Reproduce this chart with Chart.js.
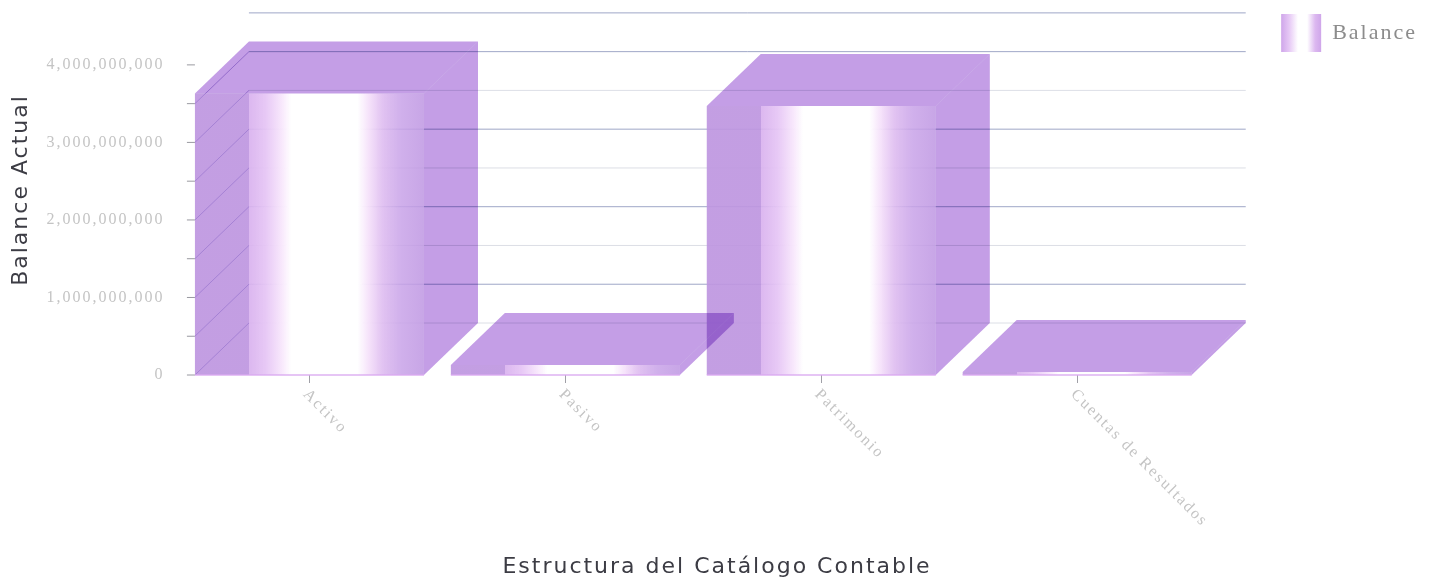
<!DOCTYPE html>
<html>
<head>
<meta charset="utf-8">
<style>
  html, body { margin: 0; background: #fff; overflow: hidden; }
  #wrap { width: 1434px; height: 582px; }
  canvas { filter: blur(0.6px); }
</style>
<script src="https://cdn.jsdelivr.net/npm/chart.js@4"></script>
</head>
<body>
<div id="wrap"><canvas id="balanceChart"></canvas></div>
<script>
const categories = ['Activo', 'Pasivo', 'Patrimonio', 'Cuentas de Resultados'];
const balances = [3630000000, 130000000, 3470000000, 40000000];
const yTickValues = [0, 500000000, 1000000000, 1500000000, 2000000000, 2500000000, 3000000000, 3500000000, 4000000000];
const seriesName = 'Balance';
const xTitle = 'Estructura del Catálogo Contable';
const yTitle = 'Balance Actual';

// box depth of the fake 3D look
const depthX = 54;
const depthY = 52;
const faceColor = 'rgb(196,158,230)';

function frontGradient(ctx, left, right) {
  const g = ctx.createLinearGradient(left, 0, right, 0);
  g.addColorStop(0, 'rgba(190,150,224,0.92)');
  g.addColorStop(0.236, 'rgba(190,150,224,0.92)');
  g.addColorStop(0.237, 'rgba(216,176,238,0.9)');
  g.addColorStop(0.31, 'rgba(230,198,245,0.95)');
  g.addColorStop(0.38, 'rgba(248,232,252,0.98)');
  g.addColorStop(0.42, '#fff');
  g.addColorStop(0.71, '#fff');
  g.addColorStop(0.76, 'rgba(245,225,250,0.95)');
  g.addColorStop(0.82, 'rgba(222,188,240,0.9)');
  g.addColorStop(0.9, 'rgba(200,162,232,0.85)');
  g.addColorStop(1, 'rgba(190,150,226,0.85)');
  return g;
}

function poly(ctx, pts) {
  ctx.beginPath();
  pts.forEach((p, i) => (i ? ctx.lineTo(p[0], p[1]) : ctx.moveTo(p[0], p[1])));
  ctx.closePath();
  ctx.fill();
}

const box3d = {
  id: 'box3d',
  beforeUpdate(chart) {
    chart.ctx.letterSpacing = '2px';
  },
  beforeDraw(chart) {
    chart.ctx.letterSpacing = '2px';
    // legend swatch uses the same white band as the bars
    const lg = chart.legend;
    const left = lg.left + lg.options.labels.padding;
    const g = chart.ctx.createLinearGradient(left, 0, left + 40, 0);
    g.addColorStop(0, '#cfa6ea');
    g.addColorStop(0.2, '#e6c8f5');
    g.addColorStop(0.42, '#fff');
    g.addColorStop(0.65, '#fff');
    g.addColorStop(0.85, '#dcb8f0');
    g.addColorStop(1, '#cfa6ea');
    lg.legendItems[0].fillStyle = g;
  },
  beforeDatasetsDraw(chart) {
    const { ctx, scales: { y } } = chart;
    const meta = chart.getDatasetMeta(0).data;
    const wallLeft = meta[0].x - meta[0].width / 2;
    const wallRight = meta[3].x + meta[3].width / 2 + depthX;
    ctx.save();
    ctx.lineWidth = 1;
    y.ticks.forEach((t) => {
      const py = y.getPixelForValue(t.value);
      const major = t.value % 1000000000 === 0 && t.value !== 4000000000;
      ctx.strokeStyle = major ? 'rgba(205,210,220,0.7)' : 'rgba(135,145,185,0.8)';
      ctx.beginPath();
      ctx.moveTo(wallLeft + depthX, py - depthY);
      ctx.lineTo(wallRight, py - depthY);
      ctx.stroke();
      ctx.strokeStyle = 'rgba(110,110,120,0.7)';
      ctx.beginPath();
      ctx.moveTo(wallLeft - 8, py);
      ctx.lineTo(wallLeft, py);
      ctx.stroke();
    });
    ctx.restore();
  },
  afterDatasetsDraw(chart) {
    const { ctx, scales: { y } } = chart;
    const meta = chart.getDatasetMeta(0).data;
    ctx.save();
    // side wall diagonals, only seen through the first box
    const l0 = meta[0].x - meta[0].width / 2;
    ctx.lineWidth = 1;
    ctx.strokeStyle = 'rgba(140,105,200,0.55)';
    y.ticks.forEach((t) => {
      if (t.value > balances[0]) return;
      const py = y.getPixelForValue(t.value);
      ctx.beginPath();
      ctx.moveTo(l0, py);
      ctx.lineTo(l0 + depthX, py - depthY);
      ctx.stroke();
    });
    meta.forEach((bar) => {
      const l = bar.x - bar.width / 2;
      const r = bar.x + bar.width / 2;
      const t = bar.y;
      const b = bar.base;
      ctx.globalCompositeOperation = 'multiply';
      ctx.fillStyle = faceColor;
      poly(ctx, [[r, t], [r + depthX, t - depthY], [r + depthX, b - depthY], [r, b]]);
      poly(ctx, [[l, t], [l + depthX, t - depthY], [r + depthX, t - depthY], [r, t]]);
      ctx.globalCompositeOperation = 'source-over';
      ctx.strokeStyle = 'rgba(218,170,240,0.9)';
      ctx.lineWidth = 1.5;
      ctx.beginPath();
      ctx.moveTo(l, b);
      ctx.lineTo(r, b);
      ctx.stroke();
    });
    ctx.restore();
  },
  afterDraw(chart) {
    const { ctx, scales: { x } } = chart;
    ctx.save();
    // category labels run down to the right from the tick
    ctx.font = '16px "Liberation Serif"';
    ctx.fillStyle = '#c4c4c4';
    ctx.textAlign = 'left';
    ctx.textBaseline = 'middle';
    categories.forEach((name, i) => {
      ctx.save();
      ctx.translate(x.getPixelForTick(i) - 4, 392);
      ctx.rotate(Math.PI / 4);
      ctx.fillText(name, 0, 0);
      ctx.restore();
    });
    ctx.font = '22px "DejaVu Sans"';
    ctx.fillStyle = '#3c3c44';
    ctx.textAlign = 'center';
    ctx.fillText(xTitle, 717, 567);
    ctx.translate(21, 190);
    ctx.rotate(-Math.PI / 2);
    ctx.fillText(yTitle, 0, 0);
    ctx.restore();
  },
};

new Chart(document.getElementById('balanceChart'), {
  type: 'bar',
  data: {
    labels: categories,
    datasets: [{
      label: seriesName,
      data: balances,
      categoryPercentage: 1,
      barPercentage: 0.895,
      backgroundColor(c) {
        const area = c.chart.chartArea;
        if (!area) return faceColor;
        const xs = c.chart.scales.x;
        const half = (xs.width / categories.length) * 0.895 / 2;
        const mid = xs.getPixelForValue(c.dataIndex);
        return frontGradient(c.chart.ctx, mid - half, mid + half);
      },
    }],
  },
  plugins: [box3d],
  options: {
    responsive: true,
    maintainAspectRatio: false,
    animation: false,
    layout: { padding: { top: 0, right: 7, left: 0, bottom: 0 } },
    plugins: {
      tooltip: { enabled: false },
      legend: {
        position: 'right',
        align: 'start',
        labels: {
          boxWidth: 40,
          boxHeight: 38,
          padding: 14,
          color: '#8c8c8c',
          font: { family: '"Liberation Serif"', size: 22 },
        },
      },
    },
    scales: {
      x: {
        afterFit(s) { s.height = 207; },
        grid: { offset: false, drawOnChartArea: false, tickLength: 8, color: 'rgba(120,120,130,0.7)' },
        border: { display: false },
        ticks: { display: false },
      },
      y: {
        min: 0,
        max: 4597000000,
        afterFit(s) { s.width = 181.5; },
        afterBuildTicks(s) { s.ticks = yTickValues.map((value) => ({ value })); },
        grid: { display: false },
        border: { display: false },
        ticks: {
          padding: 9,
          autoSkip: false,
          color: '#c4c4c4',
          font: { family: '"Liberation Serif"', size: 16 },
          callback: (v) => (v % 1000000000 === 0 ? Number(v).toLocaleString('en-US') : ''),
        },
      },
      // keeps the gap between the plot and the legend
      gap: {
        position: 'right',
        display: true,
        afterFit(s) { s.width = 62; },
        grid: { display: false },
        border: { display: false },
        ticks: { display: false },
      },
    },
  },
});
</script>
</body>
</html>
